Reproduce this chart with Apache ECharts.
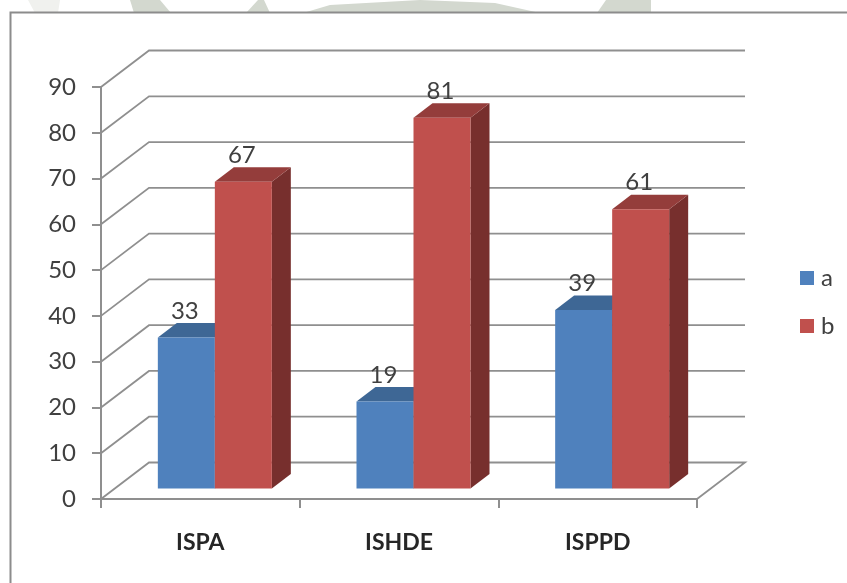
<!DOCTYPE html>
<html>
<head>
<meta charset="utf-8">
<style>html,body{margin:0;padding:0;background:#fff}#c{width:847px;height:583px;filter:blur(0.5px)}</style>
<script src="https://cdn.jsdelivr.net/npm/echarts@6/dist/echarts.min.js"></script>
</head>
<body>
<div id="c"></div>
<script>
var categories = ['ISPA', 'ISHDE', 'ISPPD'];
var valuesA = [33, 19, 39];
var valuesB = [67, 81, 61];
var ticks = [0, 10, 20, 30, 40, 50, 60, 70, 80, 90];

var WALL_DX = 48, WALL_DY = -36.5;
var BAR_W = 57, BAR_DX = 19, BAR_DY = -14.5, SHIFT_X = 14.5, SHIFT_Y = -10.5;
var GRID_COLOR = '#8f8f8f', FONT = 'Lato, "Open Sans", sans-serif';

function poly(points, fill) {
  return { type: 'polygon', shape: { points: points }, style: { fill: fill, stroke: null } };
}
function barRenderer(side, front, top, dark) {
  return function (params, api) {
    var cat = api.value(0), val = api.value(1);
    var c = api.coord([cat, val]), z = api.coord([cat, 0]);
    var x0 = c[0] + SHIFT_X + (side < 0 ? -BAR_W : 0), x1 = x0 + BAR_W;
    var yT = c[1] + SHIFT_Y, yB = z[1] + SHIFT_Y;
    return {
      type: 'group',
      children: [
        poly([[x1, yT], [x1 + BAR_DX, yT + BAR_DY], [x1 + BAR_DX, yB + BAR_DY], [x1, yB]], dark),
        poly([[x0, yT], [x0 + BAR_DX, yT + BAR_DY], [x1 + BAR_DX, yT + BAR_DY], [x1, yT]], top),
        poly([[x0, yT], [x1, yT], [x1, yB], [x0, yB]], front)
      ]
    };
  };
}
function labelRenderer(side) {
  return function (params, api) {
    var cat = api.value(0), val = api.value(1);
    var c = api.coord([cat, val]);
    return {
      type: 'text',
      z2: 50,
      style: {
        text: String(val),
        x: c[0] + SHIFT_X + side * BAR_W / 2 - 1.5,
        y: c[1] + SHIFT_Y - 26.5,
        align: 'center', verticalAlign: 'middle',
        font: '24px ' + FONT, fill: '#404040'
      }
    };
  };
}
function gridRenderer(params, api) {
  var v = api.value(0);
  var cs = params.coordSys;
  var y = api.coord([0, v])[1];
  var l = cs.x, r = cs.x + cs.width;
  var pts = [[l, y], [l + WALL_DX, y + WALL_DY], [r + WALL_DX, y + WALL_DY]];
  if (v === ticks[0]) pts.push([r, y]);
  return { type: 'polyline', shape: { points: pts }, style: { fill: null, stroke: GRID_COLOR, lineWidth: 1.8 } };
}
function pairs(vals) { return vals.map(function (v, i) { return [i, v]; }); }

var WM = '#d3d8cf';
var chart = echarts.init(document.getElementById('c'), null, { renderer: 'canvas' });
chart.setOption({
  backgroundColor: '#ffffff',
  animation: false,
  graphic: [
    { type: 'polygon', silent: true, z: -10, shape: { points: [[130, 0], [160, 0], [171, 13], [134, 13]] }, style: { fill: WM } },
    { type: 'polygon', silent: true, z: -10, shape: { points: [[258, 0], [264, 0], [270, 13], [246, 13]] }, style: { fill: WM } },
    { type: 'polygon', silent: true, z: -10, shape: { points: [[303, 13], [330, 5], [420, 0], [495, 3], [540, 13]] }, style: { fill: WM } },
    { type: 'polygon', silent: true, z: -10, shape: { points: [[597, 13], [606, 0], [651, 0], [651, 13]] }, style: { fill: WM } },
    { type: 'polygon', silent: true, z: -10, shape: { points: [[28, 0], [60, 0], [58, 13], [35, 13]] }, style: { fill: '#f0f1ee' } },
    { type: 'rect', silent: true, z: -9, shape: { x: 10.5, y: 12.5, width: 900, height: 700 }, style: { fill: '#ffffff', stroke: '#8c8c8c', lineWidth: 2 } }
  ],
  grid: { left: 101, top: 87, width: 596, height: 412, containLabel: false },
  legend: {
    orient: 'vertical', left: 795, top: 261, itemWidth: 14, itemHeight: 14, itemGap: 24,
    icon: 'rect', data: ['a', 'b'], selectedMode: false,
    textStyle: { fontFamily: FONT, fontSize: 24, lineHeight: 24, color: '#404040', padding: [0, 0, 0, 2] }
  },
  tooltip: { show: false },
  xAxis: {
    type: 'category', data: categories,
    axisLine: { show: true, lineStyle: { color: GRID_COLOR, width: 2 } },
    axisTick: { show: true, length: 9, alignWithLabel: false, lineStyle: { color: GRID_COLOR, width: 2 } },
    axisLabel: { fontFamily: FONT, fontWeight: 'bold', fontSize: 23, color: '#262626', margin: 32 }
  },
  yAxis: {
    type: 'value', min: 0, max: 90, interval: 10,
    splitLine: { show: false },
    axisLine: { show: true, lineStyle: { color: GRID_COLOR, width: 2 } },
    axisTick: { show: true, length: 9, lineStyle: { color: GRID_COLOR, width: 2 } },
    axisLabel: { fontFamily: FONT, fontSize: 24, color: '#404040', margin: 25, padding: [8, 0, 0, 0] }
  },
  series: [
    { type: 'custom', name: 'walls', z: 1, silent: true, renderItem: gridRenderer, data: ticks.map(function (v) { return [v]; }), encode: { y: 0 }, clip: false },
    { type: 'custom', name: 'a', z: 2, silent: true, renderItem: barRenderer(-1, '#4f81bd', '#3e6795', '#2f4f75'), data: pairs(valuesA), encode: { x: 0, y: 1 }, itemStyle: { color: '#4f81bd' } },
    { type: 'custom', name: 'b', z: 3, silent: true, renderItem: barRenderer(1, '#c0504d', '#943d3b', '#772f2d'), data: pairs(valuesB), encode: { x: 0, y: 1 }, itemStyle: { color: '#c0504d' } },
    { type: 'custom', name: 'a-labels', z: 4, silent: true, renderItem: labelRenderer(-1), data: pairs(valuesA), encode: { x: 0, y: 1 } },
    { type: 'custom', name: 'b-labels', z: 4, silent: true, renderItem: labelRenderer(1), data: pairs(valuesB), encode: { x: 0, y: 1 } }
  ]
});
</script>
</body>
</html>
